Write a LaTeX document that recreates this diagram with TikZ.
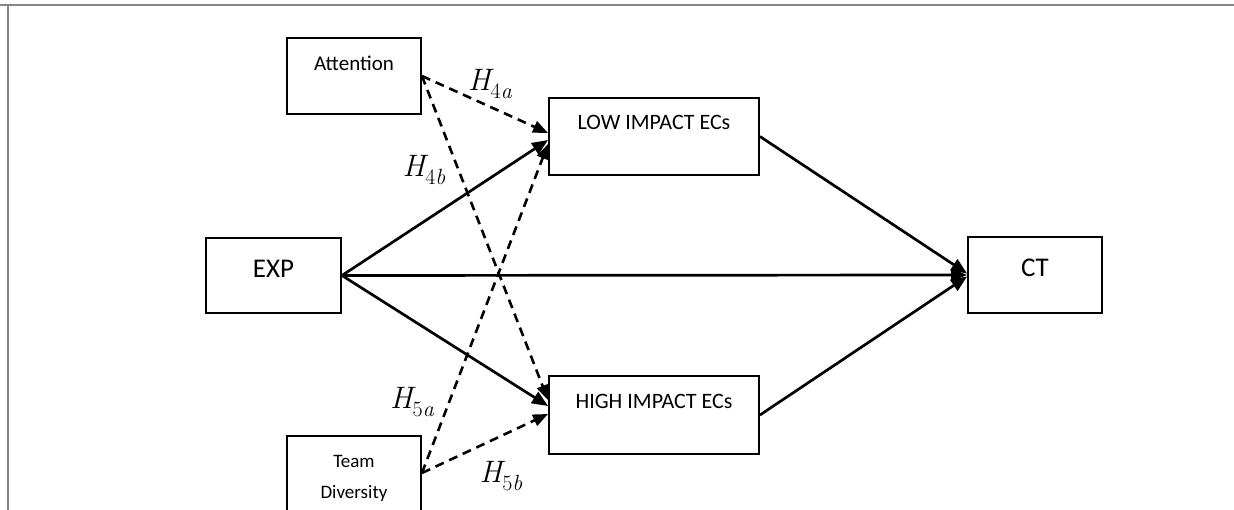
\documentclass[tikz,border=0pt]{standalone}
\usepackage{fontspec}
\setmainfont{Carlito}
\newfontfamily\hypfont{Latin Modern Roman}
\usetikzlibrary{arrows.meta}
\newcommand{\hypo}[2]{{\hypfont\itshape H\raisebox{-0.28em}{\fontsize{22}{26}\selectfont\upshape #1\itshape #2}}}
\begin{document}
\begin{tikzpicture}[x=1pt,y=-1pt,
  box/.style={draw, line width=1.9pt, inner sep=0pt},
  lbl/.style={anchor=base, inner sep=0pt},
  solidarr/.style={line width=2.7pt, -{Triangle[length=16pt,width=13pt]}},
  dasharr/.style={line width=2.6pt, dash pattern=on 9pt off 6pt, -{Triangle[length=15pt,width=12pt]}},
  hyp/.style={inner sep=0pt, font=\fontsize{31}{36}\selectfont},
  frameline/.style={draw=gray!95, line width=2pt}]
\useasboundingbox (0,0) rectangle (1234,510);

% page frame
\draw[frameline] (0,5) -- (1234,5);
\draw[frameline] (7.5,5) -- (7.5,510);

% boxes
\node[box, minimum width=134pt, minimum height=76pt] (att) at (354,76) {};
\node[box, minimum width=210pt, minimum height=77pt] (low) at (654,136.5) {};
\node[box, minimum width=210pt, minimum height=78pt] (high) at (654,415) {};
\node[box, minimum width=135pt, minimum height=75pt] (exp) at (273.5,275.5) {};
\node[box, minimum width=134pt, minimum height=76pt] (ct) at (1035,275) {};
\node[box, minimum width=134pt, minimum height=80pt] (team) at (354,476) {};

% box texts
\node[lbl, font=\fontsize{21}{24}\selectfont] (attT) at (354,70.7) {Attention};
\node[lbl, font=\fontsize{22}{26}\selectfont] (lowT) at (654,130) {LOW IMPACT ECs};
\node[lbl, font=\fontsize{22}{26}\selectfont] (highT) at (654,408) {HIGH IMPACT ECs};
\node[lbl, font=\fontsize{27}{32}\selectfont] (expT) at (273.5,277.3) {EXP};
\node[lbl, font=\fontsize{27}{32}\selectfont] (ctT) at (1035,276.7) {CT};
\node[lbl, font=\fontsize{19}{22}\selectfont] (teamT1) at (354,467) {Team};
\node[lbl, font=\fontsize{19}{22}\selectfont] (teamT2) at (354,498) {Diversity};

% direct paths
\draw[solidarr] (exp.east) -- ([yshift=-3.5pt]low.west);
\draw[solidarr] (exp.east) -- ([yshift=9pt]high.west);
\draw[solidarr] (exp.east) -- (ct.west);
\draw[solidarr] (low.east) -- ([yshift=1.5pt]ct.west);
\draw[solidarr] (high.east) -- ([yshift=-1.5pt]ct.west);

% moderating paths
\draw[dasharr] (att.east) -- ([yshift=3.5pt]low.west);
\draw[dasharr] (att.east) -- ([yshift=15pt]high.west);
\draw[dasharr] ([yshift=3pt]team.east) -- ([yshift=-7.5pt]low.west);
\draw[dasharr] ([yshift=3pt]team.east) -- ([yshift=1pt]high.west);

% hypothesis labels
\node[hyp] (h4a) at (490,84) {\hypo{4}{a}};
\node[hyp] (h4b) at (424,170) {\hypo{4}{b}};
\node[hyp] (h5a) at (412,402) {\hypo{5}{a}};
\node[hyp] (h5b) at (501,476) {\hypo{5}{b}};
\end{tikzpicture}
\end{document}
